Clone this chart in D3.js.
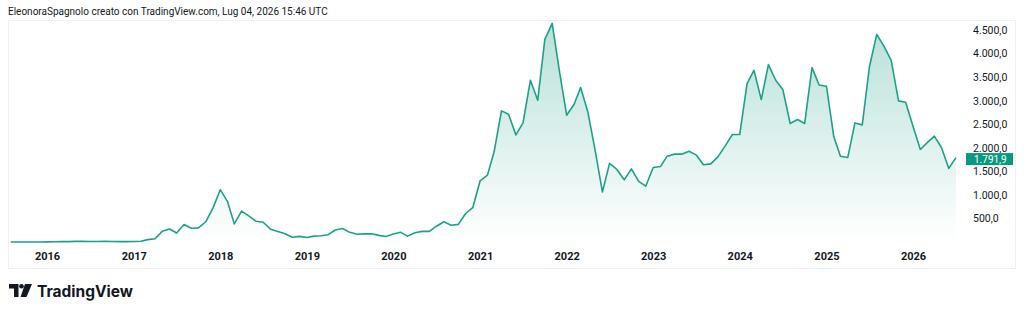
<!DOCTYPE html>
<html>
<head>
<meta charset="utf-8">
<script src="https://cdn.jsdelivr.net/npm/d3@7"></script>
<style>
  body { margin: 0; background: #fff; }
  svg text { font-family: Roboto, "Noto Sans", sans-serif; }
</style>
</head>
<body>
<div id="chart"></div>
<script>
// monthly closes, first bar = Aug 2015
const startMonth = "2015-08-01";
const closes = [
  1.3, 0.9, 1.0, 0.9, 0.9,
  2.2, 6.3, 11.4, 8.8, 14, 12.5, 11.7, 12.2, 13.2, 11.4, 8.2, 8.0,
  10.7, 15.8, 50, 70, 226, 275, 190, 370, 292, 300, 430, 720,
  1110, 850, 385, 655, 555, 440, 420, 272, 222, 175, 100, 120,
  95, 125, 132, 155, 255, 285, 205, 165, 172, 175, 140, 118,
  170, 205, 125, 198, 225, 225, 335, 430, 355, 375, 605, 728,
  1299, 1420, 1914, 2783, 2712, 2274, 2528, 3433, 3009, 4302, 4640, 3645,
  2691, 2918, 3278, 2748, 1950, 1060, 1668, 1540, 1320, 1553, 1286, 1187,
  1583, 1604, 1822, 1865, 1865, 1928, 1850, 1638, 1659, 1808, 2041, 2281,
  2281, 3362, 3645, 3023, 3765, 3433, 3235, 2515, 2600, 2515, 3701, 3333,
  3306, 2232, 1822, 1795, 2528, 2486, 3715, 4408, 4153, 3857, 2995, 2967,
  2458, 1964, 2105, 2246, 2007, 1562, 1791.9
];
const yearTicks = [2016, 2017, 2018, 2019, 2020, 2021, 2022, 2023, 2024, 2025, 2026];
const priceTicks = [500, 1000, 1500, 2000, 2500, 3000, 3500, 4000, 4500];
const headerText = "EleonoraSpagnolo creato con TradingView.com, Lug 04, 2026 15:46 UTC";

const lineColor = "#1f9f88";
const W = 1024, H = 314;

const itFormat = d3.formatLocale({
  decimal: ",", thousands: ".", grouping: [3], currency: ["", "€"]
}).format(",.1f");

const start = new Date(startMonth + "T00:00:00Z");
const data = closes.map((v, i) => ({ date: d3.utcMonth.offset(start, i), value: v }));

const svg = d3.select("#chart").append("svg")
  .attr("width", W)
  .attr("height", H);

// header
svg.append("text")
  .attr("x", 8)
  .attr("y", 15)
  .style("font-size", "10px")
  .style("fill", "#131722")
  .text(headerText);

// pane frame
svg.append("rect")
  .attr("x", 8.5)
  .attr("y", 20.5)
  .attr("width", 1007)
  .attr("height", 248)
  .attr("fill", "none")
  .attr("stroke", "#eef0f3")
  .attr("stroke-width", 1);

const x = d3.scaleUtc()
  .domain([new Date(Date.UTC(2016, 0, 1)), new Date(Date.UTC(2026, 0, 1))])
  .range([47, 913]);

const y = d3.scaleLinear()
  .domain([0, 4500])
  .range([242, 30]);

// gradient fill
const defs = svg.append("defs");
const grad = defs.append("linearGradient")
  .attr("id", "areaGrad")
  .attr("gradientUnits", "userSpaceOnUse")
  .attr("x1", 0).attr("x2", 0)
  .attr("y1", y(d3.max(closes))).attr("y2", y(0));
grad.append("stop").attr("offset", 0).attr("stop-color", lineColor).attr("stop-opacity", 0.32);
grad.append("stop").attr("offset", 1).attr("stop-color", lineColor).attr("stop-opacity", 0.0);

const area = d3.area()
  .x(d => x(d.date))
  .y0(y(0))
  .y1(d => y(d.value));

const line = d3.line()
  .x(d => x(d.date))
  .y(d => y(d.value));

svg.append("path")
  .datum(data)
  .attr("d", area)
  .attr("fill", "url(#areaGrad)");

svg.append("path")
  .datum(data)
  .attr("d", line)
  .attr("fill", "none")
  .attr("stroke", lineColor)
  .attr("stroke-width", 1.6)
  .attr("stroke-linejoin", "round");

// price axis on the right
const yAxis = svg.append("g")
  .attr("transform", "translate(973,0)")
  .call(d3.axisRight(y).tickValues(priceTicks).tickSize(0).tickPadding(0).tickFormat(itFormat));
yAxis.select(".domain").remove();
yAxis.selectAll("text")
  .style("font-family", "Roboto, sans-serif")
  .style("font-size", "10.5px")
  .style("fill", "#131722");

// time axis
const xAxis = svg.append("g")
  .attr("transform", "translate(0,252)")
  .call(d3.axisBottom(x)
    .tickValues(yearTicks.map(yr => new Date(Date.UTC(yr, 0, 1))))
    .tickSize(0)
    .tickPadding(0)
    .tickFormat(d3.utcFormat("%Y")));
xAxis.select(".domain").remove();
xAxis.selectAll("text")
  .attr("dy", "0.71em")
  .style("font-family", "Roboto, sans-serif")
  .style("font-size", "11px")
  .style("font-weight", "700")
  .style("fill", "#131722");

// last price label
const last = data[data.length - 1];
const lbl = svg.append("g").attr("transform", "translate(966," + y(last.value) + ")");
lbl.append("rect")
  .attr("x", 0)
  .attr("y", -4.5)
  .attr("width", 47)
  .attr("height", 12)
  .attr("fill", "#089981");
lbl.append("text")
  .attr("x", 8)
  .attr("y", 2)
  .attr("dy", "0.35em")
  .style("font-size", "10px")
  .style("fill", "#fff")
  .text(itFormat(last.value));

// TradingView logo
const logo = svg.append("g").attr("transform", "translate(9,284)");
logo.append("path")
  .attr("d", "M0,0 H9.5 V13 H5 V4.5 H0 Z")
  .attr("fill", "#131722");
logo.append("circle")
  .attr("cx", 12.5).attr("cy", 2.3).attr("r", 2.3)
  .attr("fill", "#131722");
logo.append("path")
  .attr("d", "M16,0 H23 L17.5,13 H11.5 Z")
  .attr("fill", "#131722");
svg.append("text")
  .attr("x", 37)
  .attr("y", 297)
  .style("font-family", "Inter, sans-serif")
  .style("font-size", "15.5px")
  .style("font-weight", "700")
  .style("fill", "#131722")
  .text("TradingView");
</script>
</body>
</html>
